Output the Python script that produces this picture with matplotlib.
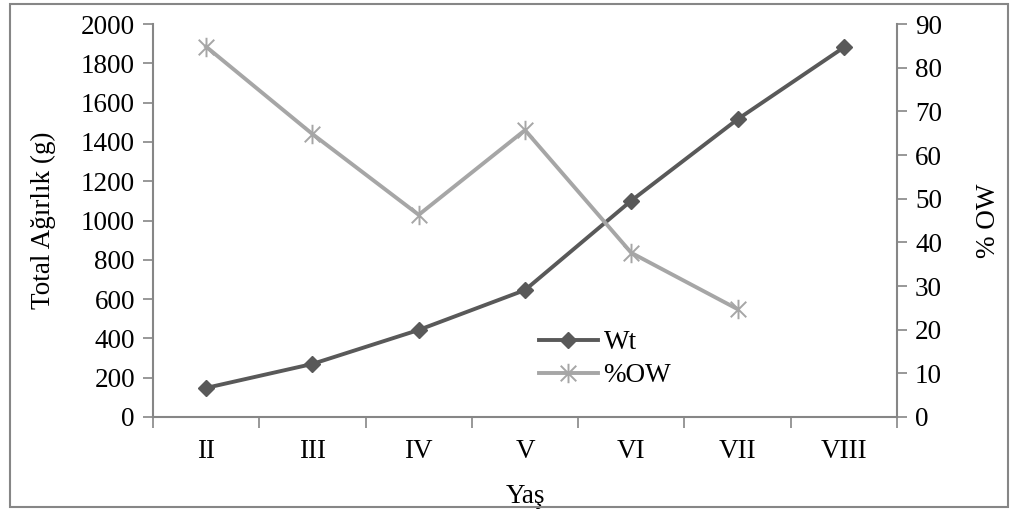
import numpy as np
import matplotlib.pyplot as plt
from matplotlib.path import Path
from matplotlib.patches import Rectangle

plt.rcParams['font.family'] = ['Liberation Serif', 'DejaVu Serif']

ages = ['II', 'III', 'IV', 'V', 'VI', 'VII', 'VIII']
wt = [148, 270, 443, 646, 1101, 1515, 1881]
ow = [84.8, 64.8, 46.3, 65.7, 37.6, 24.7]

dark = '#595959'
light = '#a6a6a6'
axis_grey = '#868686'
fs = 19.5

# Excel style asterisk: an X plus a vertical bar
star = Path(
    [(-1, -1), (1, 1), (-1, 1), (1, -1), (0, -1.25), (0, 1.25)],
    [Path.MOVETO, Path.LINETO, Path.MOVETO, Path.LINETO, Path.MOVETO, Path.LINETO],
)

fig = plt.figure(figsize=(10.11, 5.09), dpi=100)
ax = fig.add_axes([153 / 1011, 1 - 417 / 509, (897 - 153) / 1011, (417 - 24) / 509])
ax2 = ax.twinx()

x = np.arange(len(ages)) + 0.5
l1, = ax.plot(x, wt, color=dark, lw=2.8, marker='D', ms=8, mfc=dark, mec=dark, label='Wt')
l2, = ax2.plot(x[:len(ow)], ow, color=light, lw=2.8, marker=star, ms=14, mew=1.4,
               mec=light, label='%OW')

ax.set_xlim(0, len(ages))
ax.set_ylim(0, 2000)
ax2.set_ylim(0, 90)
ax.set_yticks(np.arange(0, 2001, 200))
ax2.set_yticks(np.arange(0, 91, 10))
ax.set_xticks(np.arange(0, len(ages) + 1))
ax.set_xticklabels([])
ax.set_xticks(x, minor=True)
ax.set_xticklabels(ages, minor=True)

for a in (ax, ax2):
    for side in ('top', 'right', 'left', 'bottom'):
        a.spines[side].set_visible(False)
    a.tick_params(axis='both', which='major', direction='out', length=7, width=1.2,
                  color=axis_grey, labelsize=fs, pad=6)
ax.spines['left'].set_visible(True)
ax.spines['bottom'].set_visible(True)
ax2.spines['right'].set_visible(True)
for s in (ax.spines['left'], ax.spines['bottom'], ax2.spines['right']):
    s.set_color(axis_grey)
    s.set_linewidth(1.5)
ax.tick_params(axis='x', which='minor', length=0, labelsize=fs, pad=16)
ax.tick_params(axis='x', which='major', length=8)

ax.set_ylabel('Total Ağırlık (g)', fontsize=fs, labelpad=18)
ax2.set_ylabel('% OW', fontsize=fs, labelpad=24)
ax.set_xlabel('Yaş', fontsize=fs, labelpad=14)

ax.legend(handles=[l1, l2], loc='upper left', bbox_to_anchor=(0.5, 0.255),
          frameon=False, fontsize=fs, handlelength=2.2, handletextpad=0.2,
          labelspacing=0.3, borderpad=0)

# outer chart border
fig.patches.append(Rectangle((10 / 1011, 2 / 509), 998 / 1011, 503 / 509,
                             transform=fig.transFigure, fill=False,
                             edgecolor=axis_grey, lw=1.5))

fig.savefig('out.png', dpi=100)
